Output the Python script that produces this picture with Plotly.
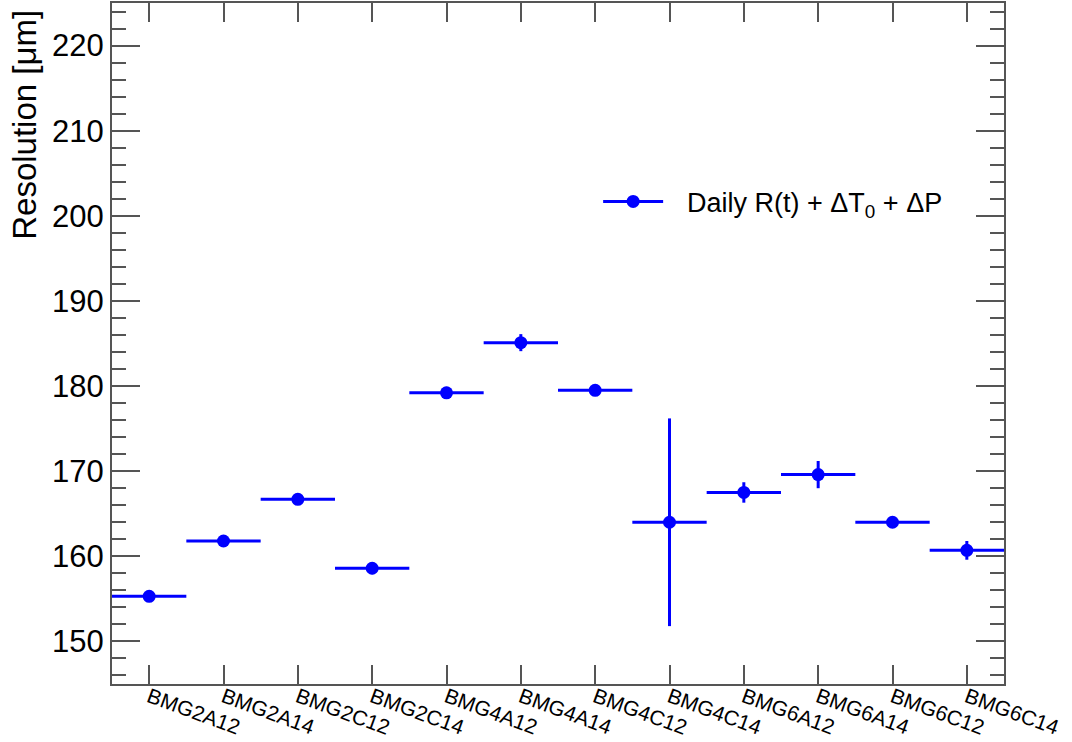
import plotly.graph_objects as go

chambers = ["BMG2A12", "BMG2A14", "BMG2C12", "BMG2C14", "BMG4A12", "BMG4A14",
            "BMG4C12", "BMG4C14", "BMG6A12", "BMG6A14", "BMG6C12", "BMG6C14"]
resolution = [155.3, 161.8, 166.7, 158.6, 179.2, 185.1,
              179.5, 164.0, 167.5, 169.6, 164.0, 160.7]
res_err = [0.4, 0.4, 0.5, 0.7, 0.7, 1.0,
           0.6, 12.2, 1.2, 1.6, 0.6, 1.1]
bin_half = [0.5] * len(chambers)

legend_label = "\u2002\u2009Daily R(t) + ΔT<sub>0</sub> + ΔP"
blue = "#0000ff"
font = "Liberation Sans, Arial, Helvetica, sans-serif"

idx = list(range(len(chambers)))

fig = go.Figure()
fig.add_trace(go.Scatter(
    x=idx, y=resolution, mode="markers",
    marker=dict(color=blue, size=13, symbol="circle"),
    error_y=dict(type="data", array=res_err, color=blue, thickness=3, width=0),
    error_x=dict(type="data", array=bin_half, color=blue, thickness=3, width=0),
    showlegend=False, cliponaxis=True,
))
fig.add_trace(go.Scatter(
    x=[None], y=[None], mode="lines+markers", name=legend_label,
    line=dict(color=blue, width=3),
    marker=dict(color=blue, size=13),
    showlegend=True,
))

axis_line = "#555555"
fig.update_layout(
    width=1072, height=742,
    margin=dict(l=112, r=68, t=3, b=58),
    paper_bgcolor="white", plot_bgcolor="white",
    font=dict(family=font, color="black"),
    showlegend=True,
    legend=dict(x=0.545, y=0.708, xanchor="left", yanchor="middle",
                bgcolor="rgba(0,0,0,0)", font=dict(size=27, family=font),
                itemwidth=60),
    xaxis=dict(
        range=[-0.5, 11.5], tickmode="array", tickvals=idx, ticktext=chambers,
        ticks="inside", ticklen=19, tickwidth=2, tickcolor=axis_line,
        tickangle=20, tickfont=dict(size=21, family=font),
        ticklabelstandoff=-9,
        showline=True, linecolor=axis_line, linewidth=2, mirror="ticks",
        showgrid=False, zeroline=False, automargin=False,
    ),
    yaxis=dict(
        range=[145, 225], tickmode="linear", tick0=150, dtick=10,
        ticks="inside", ticklen=28, tickwidth=2, tickcolor=axis_line,
        tickfont=dict(size=31, family=font),
        minor=dict(dtick=2, ticks="inside", ticklen=14, tickwidth=2, tickcolor=axis_line, showgrid=False),
        showline=True, linecolor=axis_line, linewidth=2, mirror="ticks",
        showgrid=False, zeroline=False, automargin=False,
    ),
    annotations=[dict(
        text="Resolution [μm]", xref="paper", yref="paper",
        x=-0.0975, y=0.993, xanchor="center", yanchor="top",
        textangle=-90, showarrow=False, font=dict(size=33, family=font),
    )],
)

fig.write_html("out.html")
